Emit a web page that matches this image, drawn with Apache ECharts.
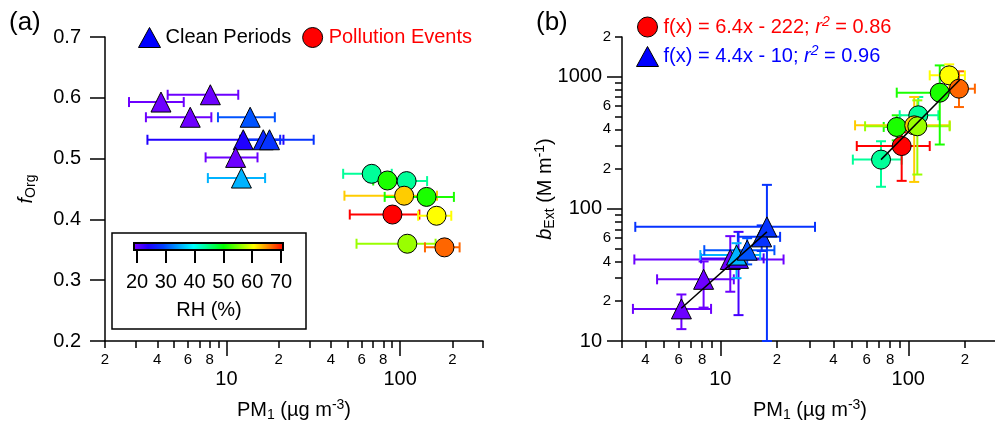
<!DOCTYPE html>
<html>
<head>
<meta charset="utf-8">
<script src="https://cdn.jsdelivr.net/npm/echarts@6/dist/echarts.min.js"></script>
<style>
  html, body { margin: 0; padding: 0; background: #fff; }
  #main { width: 995px; height: 425px; }
</style>
</head>
<body>
<div id="main"></div>
<script>
var FONT = '"Liberation Sans", Arial, Helvetica, sans-serif';

// RH colour scale (20 .. 70 %, evenly spaced stops)
var rhMin = 20, rhMax = 70;
var rhColors = ['#8000ff', '#2000ff', '#0040ff', '#00a0ff', '#00ffff', '#00ff80',
                '#00ff00', '#80ff00', '#ffff00', '#ff8000', '#ff0000'];

// ---- panel (a): f_Org vs PM1 ----
var cleanPmA   = [4.20, 8.08, 6.19, 13.7, 12.5, 16.3, 17.7, 11.3, 12.2];
var cleanPmLoA = [2.75, 4.59, 3.44, 8.94, 3.51, 12.0, 12.5, 7.59, 7.82];
var cleanPmHiA = [5.68, 11.7, 8.19, 19.0, 21.3, 20.4, 31.8, 15.1, 16.7];
var cleanFOrg  = [0.593, 0.605, 0.568, 0.568, 0.531, 0.531, 0.531, 0.502, 0.468];
var cleanRhA   = [21, 21, 21, 31, 25, 28, 29, 21, 36];

var pollPmA   = [68.6, 84.5, 109, 105.5, 142, 90.3, 162, 110, 180];
var pollPmLoA = [47.0, 70.0, 88.0, 47.8, 81.5, 51.3, 127, 56.1, 139];
var pollPmHiA = [89.5, 100, 143, 163, 204, 129, 197, 160, 220];
var pollFOrg  = [0.475, 0.464, 0.463, 0.439, 0.437, 0.408, 0.406, 0.360, 0.354];
var pollRhA   = [44, 51, 44, 62, 51, 70, 60, 56, 66];

// ---- panel (b): b_Ext vs PM1 ----
var cleanPmB     = [6.21, 8.15, 11.3, 12.5, 12.2, 13.9, 16.6, 17.7];
var cleanPmLoB   = [3.43, 4.61, 3.49, 7.90, 7.83, 8.22, 12.4, 3.53];
var cleanPmHiB   = [8.93, 11.8, 21.7, 17.0, 16.3, 19.4, 20.8, 31.9];
var cleanBext    = [17.5, 29.3, 41.4, 42.2, 44.7, 48.7, 61.4, 73.1];
var cleanBextLo  = [12.3, 17.9, 23.6, 15.7, 29.9, 38.0, 48.0, 10.0];
var cleanBextHi  = [22.5, 40.0, 62.2, 67.0, 55.0, 60.0, 75.0, 152];
var cleanRhB     = [21, 21, 21, 23, 36, 31, 29, 29];

var pollPmB     = [71.6, 92.2, 86.8, 113, 107.5, 111.7, 147, 165, 186];
var pollPmLoB   = [50.7, 53.2, 74.0, 90.0, 52.1, 58.9, 86.8, 130, 150];
var pollPmHiB   = [92.2, 130, 102, 144.5, 166, 166, 190, 200, 226];
var pollBext    = [236, 299, 417, 511, 429, 422, 758, 1025, 813];
var pollBextLo  = [147, 163, 330, 420, 160, 182, 307, 800, 590];
var pollBextHi  = [325, 380, 511, 703, 703, 663, 1219, 1241, 1100];
var pollRhB     = [44, 70, 51, 44, 62, 56, 51, 60, 66];

// fit lines (end points)
var pollFitPm   = [71.6, 188];
var pollFitBext = [236, 950];
var cleanFitPm   = [6.2, 17.7];
var cleanFitBext = [17.7, 67];
var pollFitText  = ['f(x) = 6.4x - 222; ', 'r', '2', ' = 0.86'];
var cleanFitText = ['f(x) = 4.4x - 10; ', 'r', '2', ' = 0.96'];

// axis ticks / labels
var xMinorTicksA  = [2, 3, 4, 5, 6, 7, 8, 9, 20, 30, 40, 50, 60, 70, 80, 90, 200, 300];
var xMinorLabelsA = [2, 4, 6, 8, 20, 40, 60, 80, 200];
var xMinorTicksB  = [3, 4, 5, 6, 7, 8, 9, 20, 30, 40, 50, 60, 70, 80, 90, 200, 300];
var xMinorLabelsB = [4, 6, 8, 20, 40, 60, 80, 200];
var xMajorTicks   = [10, 100];
var yMinorTicksB  = [20, 30, 40, 50, 60, 70, 80, 90, 200, 300, 400, 500, 600, 700, 800, 900, 2000];
var yMinorLabelsB = [20, 40, 60, 200, 400, 600, 2000];
var yMajorTicksB  = [10, 100, 1000];

function lg(v) { return Math.log10(v); }
function logList(arr) { return arr.map(lg); }

function minorLabel(v) {
    var n = Math.pow(10, v);
    var d = Math.pow(10, Math.floor(v + 1e-9));
    return String(Math.round(n / d));
}
function majorLabel(v) {
    return String(Math.round(Math.pow(10, v)));
}

var richName = {
    n:   { fontSize: 20, color: '#000' },
    it:  { fontSize: 20, color: '#000', fontStyle: 'italic' },
    sub: { fontSize: 14, color: '#000', padding: [10, 0, 0, 0] },
    sup: { fontSize: 14, color: '#000', padding: [0, 0, 10, 0] }
};
var pmName = '{n|PM}{sub|1}{n| (µg m}{sup|-3}{n|)}';

// two overlaid axes give the log look: short minor ticks + small digits, long major ticks + big labels
function logAxes(gridIndex, isY, min, max, minorTicks, minorLabels, majorTicks, name, nameGap) {
    var line = { color: '#000', width: 1.5 };
    var minor = {
        type: 'value', gridIndex: gridIndex, min: lg(min), max: lg(max),
        position: isY ? 'left' : 'bottom',
        axisLine: { show: true, lineStyle: line },
        axisTick: { show: true, customValues: logList(minorTicks), length: 7, lineStyle: line },
        axisLabel: { show: true, customValues: logList(minorLabels), formatter: minorLabel,
                     fontSize: 15, color: '#000', margin: isY ? 11 : 11, fontFamily: FONT },
        splitLine: { show: false }
    };
    var major = {
        type: 'value', gridIndex: gridIndex, min: lg(min), max: lg(max),
        position: isY ? 'left' : 'bottom',
        axisLine: { show: false },
        axisTick: { show: true, customValues: logList(majorTicks), length: 15, lineStyle: line },
        axisLabel: { show: true, customValues: logList(majorTicks), formatter: majorLabel,
                     fontSize: 20, color: '#000', margin: isY ? 20 : 28, fontFamily: FONT },
        splitLine: { show: false },
        name: name, nameLocation: 'middle', nameGap: nameGap, nameMoveOverlap: false,
        nameTextStyle: { fontSize: 20, color: '#000', fontFamily: FONT, rich: richName }
    };
    return [minor, major];
}

function renderErrX(params, api) {
    var y = api.value(1);
    var p = api.coord([api.value(0), y]);
    var xl = api.coord([api.value(3), y])[0];
    var xh = api.coord([api.value(4), y])[0];
    var st = { stroke: api.visual('color'), lineWidth: 2, fill: null };
    var c = 5;
    return {
        type: 'group',
        children: [
            { type: 'line', shape: { x1: xl, y1: p[1], x2: xh, y2: p[1] }, style: st },
            { type: 'line', shape: { x1: xl, y1: p[1] - c, x2: xl, y2: p[1] + c }, style: st },
            { type: 'line', shape: { x1: xh, y1: p[1] - c, x2: xh, y2: p[1] + c }, style: st }
        ]
    };
}

function renderErrXY(params, api) {
    var x = api.value(0), y = api.value(1);
    var p = api.coord([x, y]);
    var xl = api.coord([api.value(3), y])[0];
    var xh = api.coord([api.value(4), y])[0];
    var yl = api.coord([x, api.value(5)])[1];
    var yh = api.coord([x, api.value(6)])[1];
    var st = { stroke: api.visual('color'), lineWidth: 2, fill: null };
    var c = 5;
    return {
        type: 'group',
        children: [
            { type: 'line', shape: { x1: xl, y1: p[1], x2: xh, y2: p[1] }, style: st },
            { type: 'line', shape: { x1: xl, y1: p[1] - c, x2: xl, y2: p[1] + c }, style: st },
            { type: 'line', shape: { x1: xh, y1: p[1] - c, x2: xh, y2: p[1] + c }, style: st },
            { type: 'line', shape: { x1: p[0], y1: yl, x2: p[0], y2: yh }, style: st },
            { type: 'line', shape: { x1: p[0] - c, y1: yl, x2: p[0] + c, y2: yl }, style: st },
            { type: 'line', shape: { x1: p[0] - c, y1: yh, x2: p[0] + c, y2: yh }, style: st }
        ]
    };
}

// data rows: [log x, y, rh, log xlo, log xhi, ylo, yhi]
function rowsA(pm, f, rh, lo, hi) {
    return pm.map(function (v, i) { return [lg(v), f[i], rh[i], lg(lo[i]), lg(hi[i])]; });
}
function rowsB(pm, b, rh, lo, hi, blo, bhi) {
    return pm.map(function (v, i) {
        return [lg(v), lg(b[i]), rh[i], lg(lo[i]), lg(hi[i]), lg(blo[i]), lg(bhi[i])];
    });
}

var cleanRowsA = rowsA(cleanPmA, cleanFOrg, cleanRhA, cleanPmLoA, cleanPmHiA);
var pollRowsA  = rowsA(pollPmA, pollFOrg, pollRhA, pollPmLoA, pollPmHiA);
var cleanRowsB = rowsB(cleanPmB, cleanBext, cleanRhB, cleanPmLoB, cleanPmHiB, cleanBextLo, cleanBextHi);
var pollRowsB  = rowsB(pollPmB, pollBext, pollRhB, pollPmLoB, pollPmHiB, pollBextLo, pollBextHi);

var pollName = 'pollution fit', cleanName = 'clean fit';

function fitRich(t, key) {
    return '{' + key + '|' + t[0] + '}{' + key + 'i|' + t[1] + '}{' + key + 's|' + t[2] + '}{' + key + '|' + t[3] + '}';
}

var xa = logAxes(0, false, 2, 300, xMinorTicksA, xMinorLabelsA, xMajorTicks, pmName, 57);
var xb = logAxes(1, false, 3, 300, xMinorTicksB, xMinorLabelsB, xMajorTicks, pmName, 57);
var yb = logAxes(1, true, 10, 2000, yMinorTicksB, yMinorLabelsB, yMajorTicksB,
                 '{it|b}{sub|Ext}{n| (M m}{sup|-1}{n|)}', 65);

var cbStops = rhColors.map(function (c, i) { return { offset: i / (rhColors.length - 1), color: c }; });

var scatterStyle = { borderColor: '#000', borderWidth: 1, opacity: 1 };

var myChart = echarts.init(document.getElementById('main'), null, { renderer: 'canvas' });
var option = {
    animation: false,
    backgroundColor: '#fff',
    textStyle: { fontFamily: FONT },
    grid: [
        { left: 105, top: 37, width: 378, height: 304, outerBoundsMode: 'none' },
        { left: 622, top: 37, width: 376, height: 304, outerBoundsMode: 'none' },
        { left: 137, top: 243, width: 144, height: 7, outerBoundsMode: 'none' }
    ],
    xAxis: [
        xa[0], xa[1], xb[0], xb[1],
        {
            type: 'value', gridIndex: 2, min: rhMin, max: rhMax, interval: 10,
            axisLine: { show: false },
            axisTick: { show: true, length: 13, lineStyle: { color: '#000', width: 2 } },
            axisLabel: { fontSize: 20, color: '#000', margin: 22, fontFamily: FONT },
            splitLine: { show: false },
            name: 'RH (%)', nameLocation: 'middle', nameGap: 50, nameMoveOverlap: false,
            nameTextStyle: { fontSize: 20, color: '#000', fontFamily: FONT }
        }
    ],
    yAxis: [
        {
            type: 'value', gridIndex: 0, min: 0.2, max: 0.7, interval: 0.1,
            axisLine: { show: true, lineStyle: { color: '#000', width: 1.5 } },
            axisTick: { show: true, length: 15, lineStyle: { color: '#000', width: 1.5 } },
            axisLabel: { fontSize: 20, color: '#000', margin: 24, fontFamily: FONT,
                         formatter: function (v) { return v.toFixed(1); } },
            splitLine: { show: false },
            name: '{it|f}{sub|Org}', nameLocation: 'middle', nameGap: 67, nameMoveOverlap: false,
            nameTextStyle: { fontSize: 20, color: '#000', fontFamily: FONT, rich: richName }
        },
        yb[0], yb[1],
        { type: 'value', gridIndex: 2, show: false, min: 0, max: 1 }
    ],
    visualMap: {
        type: 'continuous', show: false, min: rhMin, max: rhMax, dimension: 2,
        seriesIndex: [0, 1, 2, 3, 4, 5, 6, 7],
        inRange: { color: rhColors }
    },
    legend: [
        {
            left: 138, top: 27, padding: 0, itemWidth: 22, itemHeight: 20, itemGap: 11,
            selectedMode: false,
            textStyle: { fontSize: 20, fontFamily: FONT },
            data: [
                { name: 'Clean Periods', icon: 'triangle', textStyle: { color: '#000' },
                  itemStyle: { color: '#0000ff', borderColor: '#000', borderWidth: 1 } },
                { name: 'Pollution Events', icon: 'circle', textStyle: { color: '#ff0000' },
                  itemStyle: { color: '#ff0000', borderColor: '#000', borderWidth: 1 } }
            ]
        },
        {
            left: 636, top: 15, padding: 0, orient: 'vertical', itemWidth: 22, itemHeight: 20, itemGap: 7,
            selectedMode: false,
            textStyle: {
                fontSize: 20, fontFamily: FONT,
                rich: {
                    r:  { fontSize: 20, color: '#ff0000' },
                    ri: { fontSize: 20, color: '#ff0000', fontStyle: 'italic' },
                    rs: { fontSize: 14, color: '#ff0000', fontStyle: 'italic', padding: [0, 0, 10, 0] },
                    b:  { fontSize: 20, color: '#0000ff' },
                    bi: { fontSize: 20, color: '#0000ff', fontStyle: 'italic' },
                    bs: { fontSize: 14, color: '#0000ff', fontStyle: 'italic', padding: [0, 0, 10, 0] }
                }
            },
            formatter: function (name) {
                return name === pollName ? fitRich(pollFitText, 'r') : fitRich(cleanFitText, 'b');
            },
            data: [
                { name: pollName, icon: 'circle',
                  itemStyle: { color: '#ff0000', borderColor: '#000', borderWidth: 1 } },
                { name: cleanName, icon: 'triangle',
                  itemStyle: { color: '#0000ff', borderColor: '#000', borderWidth: 1 } }
            ]
        }
    ],
    graphic: [
        { type: 'rect', z: -1, shape: { x: 112, y: 233, width: 194, height: 96 },
          style: { fill: 'none', stroke: '#000', lineWidth: 1.5 } },
        { type: 'rect', shape: { x: 134, y: 243, width: 149, height: 7 },
          style: { fill: new echarts.graphic.LinearGradient(0, 0, 1, 0, cbStops), stroke: '#000', lineWidth: 2 } },
        { type: 'text', left: 9, top: 10, style: { text: '(a)', fontSize: 26, fontFamily: FONT, fill: '#000' } },
        { type: 'text', left: 536, top: 10, style: { text: '(b)', fontSize: 26, fontFamily: FONT, fill: '#000' } }
    ],
    series: [
        { type: 'custom', name: 'errCleanA', xAxisIndex: 0, yAxisIndex: 0, renderItem: renderErrX, data: cleanRowsA, z: 1 },
        { type: 'custom', name: 'errPollA', xAxisIndex: 0, yAxisIndex: 0, renderItem: renderErrX, data: pollRowsA, z: 1 },
        { type: 'scatter', name: 'Clean Periods', xAxisIndex: 0, yAxisIndex: 0, symbol: 'triangle', symbolSize: 20,
          itemStyle: Object.assign({ color: '#0000ff' }, scatterStyle), data: cleanRowsA.map(function (r) { return r.slice(0, 3); }), z: 2 },
        { type: 'scatter', name: 'Pollution Events', xAxisIndex: 0, yAxisIndex: 0, symbol: 'circle', symbolSize: 19,
          itemStyle: Object.assign({ color: '#ff0000' }, scatterStyle), data: pollRowsA.map(function (r) { return r.slice(0, 3); }), z: 2 },
        { type: 'custom', name: 'errCleanB', xAxisIndex: 2, yAxisIndex: 1, renderItem: renderErrXY, data: cleanRowsB, z: 1 },
        { type: 'custom', name: 'errPollB', xAxisIndex: 2, yAxisIndex: 1, renderItem: renderErrXY, data: pollRowsB, z: 1 },
        { type: 'scatter', name: pollName, xAxisIndex: 2, yAxisIndex: 1, symbol: 'circle', symbolSize: 19,
          itemStyle: Object.assign({ color: '#ff0000' }, scatterStyle), data: pollRowsB.map(function (r) { return r.slice(0, 3); }), z: 2 },
        { type: 'scatter', name: cleanName, xAxisIndex: 2, yAxisIndex: 1, symbol: 'triangle', symbolSize: 20,
          itemStyle: Object.assign({ color: '#0000ff' }, scatterStyle), data: cleanRowsB.map(function (r) { return r.slice(0, 3); }), z: 2 },
        { type: 'line', name: 'pollFitLine', xAxisIndex: 2, yAxisIndex: 1, symbol: 'none', z: 3,
          lineStyle: { color: '#000', width: 1.5 },
          data: pollFitPm.map(function (v, i) { return [lg(v), lg(pollFitBext[i])]; }) },
        { type: 'line', name: 'cleanFitLine', xAxisIndex: 2, yAxisIndex: 1, symbol: 'none', z: 3,
          lineStyle: { color: '#000', width: 1.5 },
          data: cleanFitPm.map(function (v, i) { return [lg(v), lg(cleanFitBext[i])]; }) }
    ]
};
myChart.setOption(option);
</script>
</body>
</html>
